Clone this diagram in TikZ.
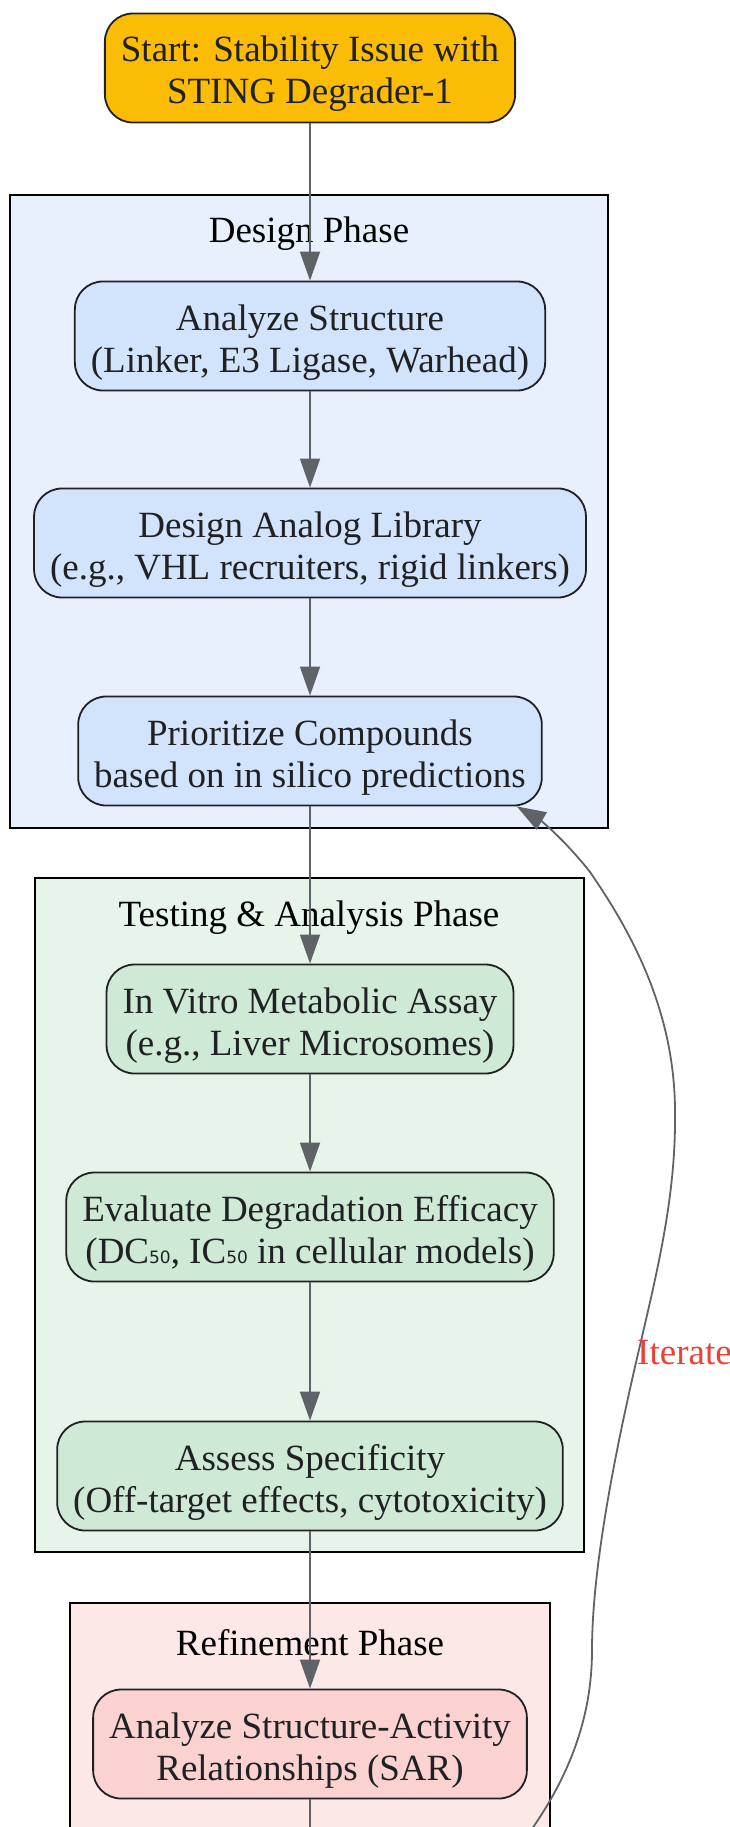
\documentclass[tikz,border=0pt]{standalone}
\usepackage{fontspec}
\setmainfont{Liberation Serif}
\newfontfamily\subdigits{DejaVu Sans}
\usetikzlibrary{arrows.meta}
\definecolor{edgegray}{HTML}{5F6368}
\definecolor{inkgray}{HTML}{202124}
\definecolor{startfill}{HTML}{FBBC05}
\definecolor{designzone}{HTML}{E8F0FE}
\definecolor{designfill}{HTML}{D2E3FC}
\definecolor{testzone}{HTML}{E6F4EA}
\definecolor{testfill}{HTML}{CEEAD6}
\definecolor{refinezone}{HTML}{FCE8E6}
\definecolor{refinefill}{HTML}{FAD2CF}
\definecolor{iterred}{HTML}{EA4335}
\newcommand{\fifty}{{\subdigits\fontsize{17}{20}\selectfont 50}}

\begin{document}
\begin{tikzpicture}[x=1pt,y=-1pt,
        font=\fontsize{37}{42}\selectfont,
        stepbox/.style={draw=inkgray,line width=1.8pt,rounded corners=28pt,text=inkgray,
            align=center,minimum height=109pt,inner xsep=16pt,text height=80pt,text depth=8pt},
        zone/.style={draw=black,line width=2pt},
        zonelabel/.style={text=black},
        flow/.style={draw=edgegray,line width=1.8pt,-{Triangle[length=29pt,width=20pt]}}]
        \useasboundingbox (0,0) rectangle (730,1827);
        % phases
        \draw[zone,fill=designzone] (10,195) rectangle (608,828);
        \node[zonelabel] (designlbl) at (309,234) {Design Phase};
        \draw[zone,fill=testzone] (35,878) rectangle (584,1552);
        \node[zonelabel] (testlbl) at (309,918) {Testing \& Analysis Phase};
        \draw[zone,fill=refinezone] (70,1603) rectangle (550,1900);
        \node[zonelabel] (refinelbl) at (310,1643) {Refinement Phase};
        % steps
        \node[stepbox,fill=startfill] (start) at (310,68) {Start: Stability Issue with\\STING Degrader-1};
        \node[stepbox,fill=designfill] (structure) at (310,336) {Analyze Structure\\(Linker, E3 Ligase, Warhead)};
        \node[stepbox,fill=designfill] (library) at (310,543) {Design Analog Library\\(e.g., VHL recruiters, rigid linkers)};
        \node[stepbox,fill=designfill] (prioritize) at (310,751) {Prioritize Compounds\\based on in silico predictions};
        \node[stepbox,fill=testfill] (invitro) at (310,1019) {In Vitro Metabolic Assay\\(e.g., Liver Microsomes)};
        \node[stepbox,fill=testfill] (efficacy) at (310,1227) {Evaluate Degradation Efficacy\\(DC\fifty, IC\fifty{} in cellular models)};
        \node[stepbox,fill=testfill] (specificity) at (310,1476) {Assess Specificity\\(Off-target effects, cytotoxicity)};
        \node[stepbox,fill=refinefill] (sar) at (310,1744) {Analyze Structure-Activity\\Relationships (SAR)};
        \coordinate (sarout) at (310,1900);
        \coordinate (iterfrom) at (500,1870);
        % connectors
        \draw[flow] (start) -- (structure);
        \draw[flow] (structure) -- (library);
        \draw[flow] (library) -- (prioritize);
        \draw[flow] (prioritize) -- (invitro);
        \draw[flow] (invitro) -- (efficacy);
        \draw[flow] (efficacy) -- (specificity);
        \draw[flow] (specificity) -- (sar);
        \draw[draw=edgegray,line width=1.8pt] (sar) -- (sarout);
        \draw[flow] (iterfrom) .. controls (560,1800) and (592,1730) .. (592,1650)
            .. controls (592,1560) and (620,1430) .. (641,1341)
            node[anchor=west,text=iterred,xshift=-8pt,yshift=-12pt] (iterlbl) {Iterate}
            .. controls (660,1260) and (676,1190) .. (675,1112)
            .. controls (675,1010) and (630,930) .. (590,872)
            .. controls (565,840) and (540,820) .. (prioritize.-15);
\end{tikzpicture}
\end{document}
